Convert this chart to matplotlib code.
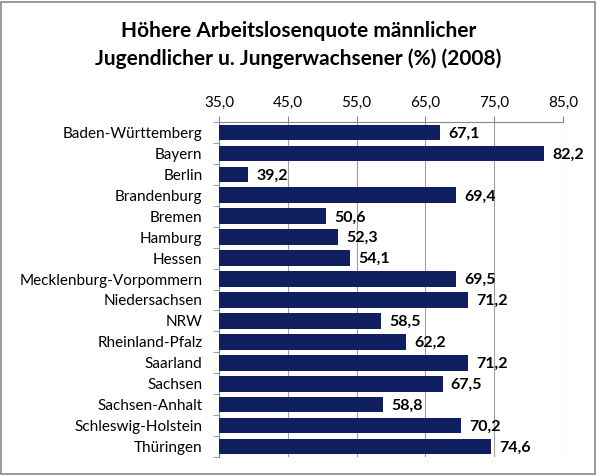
import matplotlib.pyplot as plt
import matplotlib.patches as patches

states = ['Baden-Württemberg', 'Bayern', 'Berlin', 'Brandenburg', 'Bremen',
          'Hamburg', 'Hessen', 'Mecklenburg-Vorpommern', 'Niedersachsen', 'NRW',
          'Rheinland-Pfalz', 'Saarland', 'Sachsen', 'Sachsen-Anhalt',
          'Schleswig-Holstein', 'Thüringen']
values = [67.1, 82.2, 39.2, 69.4, 50.6, 52.3, 54.1, 69.5, 71.2, 58.5,
          62.2, 71.2, 67.5, 58.8, 70.2, 74.6]
ticks = [35, 45, 55, 65, 75, 85]

plt.rcParams['font.family'] = ['Lato', 'DejaVu Sans']

fig = plt.figure(figsize=(5.97, 4.75), dpi=100)
ax = fig.add_axes([0.367, 0.038, 0.576, 0.705])

ypos = list(range(len(states)))
ax.barh(ypos, [v - 35 for v in values], left=35, height=0.75, color='#0f1f5f', zorder=3)
for y, v in zip(ypos, values):
    ax.text(v + 1.2, y + 0.05, ('%.1f' % v).replace('.', ','), va='center', ha='left',
            fontsize=11.5, fontweight='bold', zorder=4)

ax.set_xlim(35, 85)
ax.set_ylim(len(states) - 0.5, -0.5)
ax.set_xticks(ticks)
ax.set_xticklabels([('%.1f' % t).replace('.', ',') for t in ticks], fontsize=11)
ax.xaxis.tick_top()
ax.set_yticks(ypos)
ax.set_yticklabels(states, fontsize=11)
ax.set_yticks([y + 0.5 for y in range(-1, len(states))], minor=True)
ax.tick_params(axis='y', which='major', length=0, pad=12)
ax.tick_params(axis='y', which='minor', length=4, color='#888888')
ax.tick_params(axis='x', length=4, color='#888888', pad=5)
ax.grid(axis='x', color='#a0a0a0', linewidth=0.8, zorder=0)
for s in ['right', 'bottom']:
    ax.spines[s].set_visible(False)
for s in ['left', 'top']:
    ax.spines[s].set_color('#888888')

fig.text(0.5, 0.905, 'Höhere Arbeitslosenquote männlicher\nJugendlicher u. Jungerwachsener (%) (2008)',
         ha='center', va='center', fontsize=15, fontweight='bold', linespacing=1.45)

fig.patches.append(patches.Rectangle((0.002, 0.003), 0.995, 0.993, transform=fig.transFigure,
                                     fill=False, edgecolor='#888888', linewidth=1.2))

fig.savefig('out.png', dpi=100)
